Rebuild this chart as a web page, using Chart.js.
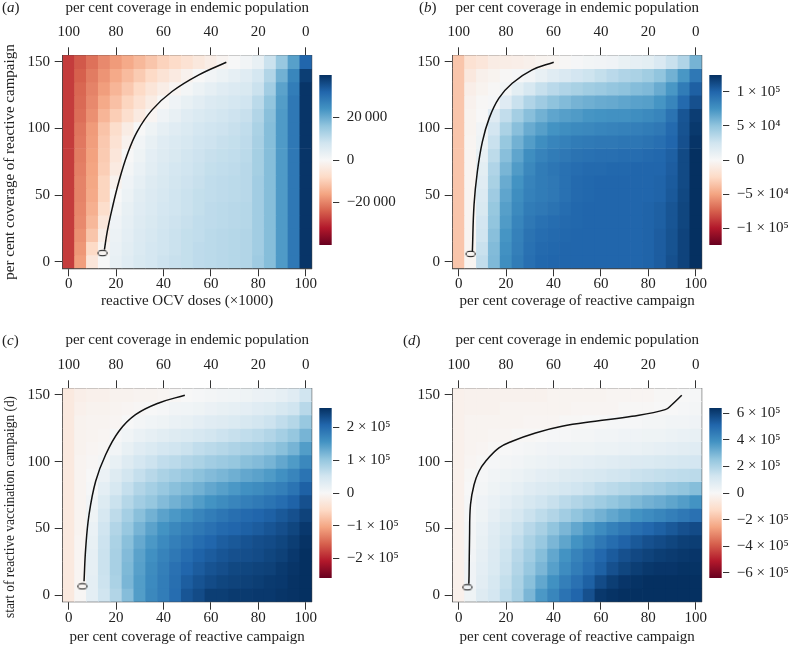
<!DOCTYPE html>
<html>
<head>
<meta charset="utf-8">
<title>Reactive vaccination heat maps</title>
<script src="https://cdn.jsdelivr.net/npm/chart.js@4.4.1/dist/chart.umd.min.js"></script>
<style>
  html, body { margin: 0; padding: 0; background: #fff; }
  #page { position: relative; width: 788px; height: 646px; overflow: hidden;
          font-family: 'Liberation Serif', 'Times New Roman', serif; color: #222; }
  #page canvas { position: absolute; }
  .tag, .ylab { position: absolute; font-size: 15px; line-height: 1; white-space: nowrap; }
  .ylab { transform: translate(-50%, -50%) rotate(-90deg); }
</style>
</head>
<body>
<div id="page">
  <canvas id="heatA" width="318" height="318" style="left:0px;top:0px"></canvas>
  <canvas id="heatB" width="318" height="318" style="left:390px;top:0px"></canvas>
  <canvas id="heatC" width="318" height="313" style="left:0px;top:333px"></canvas>
  <canvas id="heatD" width="318" height="313" style="left:390px;top:333px"></canvas>
  <canvas id="barA" width="86" height="200" style="left:312px;top:60px"></canvas>
  <canvas id="barB" width="86" height="200" style="left:702px;top:60px"></canvas>
  <canvas id="barC" width="86" height="200" style="left:312px;top:393px"></canvas>
  <canvas id="barD" width="86" height="200" style="left:702px;top:393px"></canvas>

  <div class="tag" style="left:2px;top:0px">(<i>a</i>)</div>
  <div class="tag" style="left:419px;top:0px">(<i>b</i>)</div>
  <div class="tag" style="left:2px;top:333px">(<i>c</i>)</div>
  <div class="tag" style="left:403px;top:333px">(<i>d</i>)</div>

  <div class="ylab" style="left:8.5px;top:161.8px">per cent coverage of reactive campaign</div>
  <div class="ylab" style="left:8.5px;top:507px;transform:translate(-50%,-50%) rotate(-90deg) scaleX(0.89)">start of reactive vaccination campaign (d)</div>
</div>
<script>
// grid of the heat maps
const colX = [0, 5, 10, 15, 20, 25, 30, 35, 40, 45, 50, 55, 60, 65, 70, 75, 80, 85, 90, 95, 100];
const rowY = [150, 140, 130, 120, 110, 100, 90, 80, 70, 60, 50, 40, 30, 20, 10, 0];
const xTicks = [0, 20, 40, 60, 80, 100];
const yTicks = [0, 50, 100, 150];

// (a) values in thousands, rows top (150) to bottom (0)
const valuesA = [
  [-28,-24.8,-22,-19.2,-17.2,-15.2,-13.2,-11.2,-9.2,-7.6,-6,-4.4,-2.8,-1.2,0,1.2,3.2,8.8,15.2,22,32],
  [-28,-24,-20.8,-18,-15.2,-12.8,-10.4,-8,-5.6,-3.6,-1.6,0,1.2,2.4,3.6,4.8,7.2,12,19.2,26.4,38],
  [-28,-23.2,-20,-16.8,-13.6,-10.8,-8,-5.2,-2.8,-0.8,0.8,2.4,3.6,4.8,5.6,6.4,8.8,14,21.6,28,39.2],
  [-28,-22.8,-19.2,-15.2,-12,-8.8,-6,-3.2,-0.4,1.6,3.2,4.4,5.6,6.4,7.2,8,10.8,16,22.4,28.8,39.2],
  [-28,-22.4,-18.4,-13.6,-10,-6.8,-3.6,-0.8,1.6,3.2,4.8,6,6.8,7.6,8.4,9.2,12,16.8,22.8,28.8,39.2],
  [-28,-21.6,-17.2,-11.6,-7.2,-3.2,0,2,3.6,4.8,6,7.2,8,8.4,9.2,10,12.8,17.2,22.8,28.8,39.2],
  [-28,-21.2,-16.8,-10.8,-6,-1.6,1.2,3.2,4.8,6,6.8,8,8.4,9.2,9.6,10.4,13.2,17.2,22.8,28.8,39.2],
  [-28,-20.8,-16.4,-10.4,-4.8,0,2,4,5.2,6.4,7.6,8.4,9.2,9.6,10,10.8,13.6,17.2,22.8,28.8,39.2],
  [-28,-20.4,-16,-10,-3.6,0.8,2.8,4.4,6,7.2,8,8.8,9.6,10,10.4,11.2,13.6,17.2,22.8,28.8,39.2],
  [-28,-20,-15.6,-8.8,-1.6,1.6,3.6,5.2,6.4,7.6,8.4,9.2,10,10.4,10.8,11.2,14,17.2,22.8,28.8,39.2],
  [-28,-20,-15.2,-8.8,0,2.4,4.4,5.6,6.8,8,8.8,9.6,10,10.4,10.8,11.2,14,17.2,22.8,28.8,39.2],
  [-28,-19.6,-14.4,-7.2,0.8,3.2,4.8,6,7.2,8,8.8,9.6,10.4,10.8,11.2,11.6,14,17.2,22.8,28.8,39.2],
  [-28,-19.2,-13.2,-4.8,1.6,3.6,5.2,6.4,7.6,8.4,9.2,10,10.4,10.8,11.2,11.6,14,17.2,22.8,28.8,39.2],
  [-28,-18.4,-11.2,-2.8,2.4,4,5.6,6.8,8,8.8,9.6,10,10.8,11.2,11.6,12,14,17.2,22.8,28.8,39.2],
  [-28,-17.6,-8,-1.2,2.8,4.4,6,7.2,8,8.8,9.6,10.4,10.8,11.2,11.6,12,14,17.2,22.8,28.8,39.2],
  [-28,-16.8,-4.8,0,3.2,4.8,6.4,7.2,8.4,9.2,9.6,10.4,10.8,11.2,11.6,12,14.4,17.2,22.8,28.8,39.2]
];
const curveA = [[15.1,9],[16.3,22.7],[18.4,40.2],[21.2,60.2],[24.7,80.3],[28.9,97.7],[35.2,114],[43.6,127.8],[54.9,140.3],[66.5,149.8]];
const startA = [14.3, 6.4];
const barTicksA = [-20, 0, 20];
const barLabelsA = ['\u221220\u2009000', '0', '20\u2009000'];

// (b) thousands
const valuesB = [
  [-35,-19,-15,-10,-9,-8,-6,-4,-3,-1,1,3,4,5,9,11,13,19,28,38,59],
  [-35,-13,-6,-4,-1,1,4,10,15,19,23,26,30,34,38,40,44,50,60,73,90],
  [-35,-8,-4,-1,3,13,21,29,34,38,41,44,46,49,51,54,56,63,73,88,103],
  [-35,-5,-1,1,16,28,38,45,51,55,59,61,63,64,66,68,69,74,83,98,110],
  [-35,-4,0,16,31,43,53,60,66,69,71,74,75,76,76,78,80,83,93,108,119],
  [-35,-4,4,23,40,53,63,69,75,78,80,81,83,84,85,86,88,90,98,109,121],
  [-35,-3,6,28,48,60,70,78,83,85,88,89,90,90,91,91,93,95,100,110,123],
  [-35,-3,10,33,53,66,78,84,88,90,93,94,95,95,96,96,98,99,103,113,125],
  [-35,-3,13,38,58,71,81,88,91,94,96,98,98,99,99,100,100,100,104,113,125],
  [-35,-3,15,41,63,75,84,88,90,94,98,99,100,100,100,100,100,101,105,113,125],
  [-35,-3,18,45,66,78,85,88,90,94,98,99,100,100,100,100,100,101,106,114,125],
  [-35,-3,20,48,69,80,88,90,93,96,99,100,100,100,100,100,101,103,108,115,125],
  [-35,-3,23,50,71,83,90,94,96,98,99,100,100,100,100,100,101,103,108,115,125],
  [-35,-3,25,53,74,85,93,96,98,99,100,100,100,100,100,100,101,104,109,116,125],
  [-35,-3,28,55,76,86,94,98,99,100,100,100,100,100,100,100,101,104,109,116,125],
  [-35,-3,31,56,78,88,95,99,100,100,100,100,100,100,100,100,101,104,110,116,125]
];
const curveB = [[5.8,7.7],[6.5,42.8],[7.9,67.7],[10,90],[12.9,107.8],[17,122.8],[22.6,134],[31,144],[40.1,149.8]];
const startB = [5.05, 5.8];
const barTicksB = [-100, -50, 0, 50, 100];
const barLabelsB = ['\u22121 \u00d7 10\u2075', '\u22125 \u00d7 10\u2074', '0', '5 \u00d7 10\u2074', '1 \u00d7 10\u2075'];

// (c) thousands
const valuesC = [
  [-26,-16,-13,-13,-10,-10,-8,-8,-5,-3,0,3,5,8,10,13,16,18,23,31,52],
  [-26,-13,-10,-10,-8,-5,-3,0,3,8,10,13,16,21,23,26,31,36,44,52,73],
  [-26,-10,-8,-8,-5,0,5,10,13,18,21,26,31,34,39,44,49,55,65,75,99],
  [-26,-10,-8,-5,3,10,18,23,29,34,39,44,49,55,60,65,70,78,88,101,122],
  [-26,-10,-5,-3,8,21,31,39,47,52,57,65,70,75,81,86,91,99,109,122,146],
  [-26,-8,-3,5,21,34,47,55,65,70,78,83,91,96,101,109,114,122,135,148,169],
  [-26,-8,0,16,34,49,62,73,83,91,99,107,114,120,127,135,140,148,159,172,192],
  [-26,-8,3,26,44,62,78,88,99,109,117,125,135,143,151,159,164,172,179,192,213],
  [-26,-8,8,36,57,75,91,101,114,125,135,146,156,164,172,179,185,192,200,211,229],
  [-26,-8,13,44,68,88,109,125,140,151,161,172,182,190,198,203,208,213,221,229,242],
  [-26,-8,18,52,78,99,122,140,156,169,179,187,195,203,208,213,218,224,231,239,252],
  [-26,-5,21,55,83,109,133,151,166,179,190,200,208,216,221,226,231,234,239,247,257],
  [-26,-5,23,57,86,114,140,159,174,187,200,211,218,224,229,231,234,239,244,252,260],
  [-26,-5,23,57,86,117,143,164,179,195,208,218,226,231,237,239,242,244,250,255,260],
  [-26,-5,26,55,83,120,146,166,182,198,216,226,234,239,242,244,247,250,252,257,260],
  [-26,-3,26,52,78,112,146,169,182,200,224,234,247,247,250,250,252,252,255,257,260]
];
const curveC = [[6.5,10.3],[7.2,35.2],[8.6,60.2],[11.4,85.3],[15.6,105.2],[21.2,122.8],[28.2,135.2],[38,144],[49,149.8]];
const startC = [5.8, 6.5];
const barTicksC = [-200, -100, 0, 100, 200];
const barLabelsC = ['\u22122 \u00d7 10\u2075', '\u22121 \u00d7 10\u2075', '0', '1 \u00d7 10\u2075', '2 \u00d7 10\u2075'];

// (d) thousands
const valuesD = [
  [-32,-26,-26,-26,-26,-26,-26,-26,-19,-19,-19,-19,-19,-13,-13,-13,-13,-6,-6,0,6],
  [-32,-26,-26,-26,-19,-19,-19,-19,-19,-19,-13,-13,-13,-13,-6,-6,-6,0,0,6,13],
  [-32,-19,-19,-19,-19,-19,-13,-13,-13,-6,-6,0,0,6,6,6,13,13,19,19,26],
  [-32,-19,-19,-13,-13,-6,-6,0,6,6,13,13,19,19,26,26,32,32,38,45,51],
  [-32,-19,-13,-6,0,6,13,19,26,26,32,32,38,38,45,45,51,58,64,70,77],
  [-32,-13,-6,6,13,19,32,38,45,51,58,64,70,77,83,90,96,102,109,115,118],
  [-32,-6,6,19,32,38,51,64,70,83,90,102,109,122,128,141,147,154,160,166,173],
  [-32,0,13,32,45,58,77,90,102,115,128,141,160,173,186,198,211,224,243,256,275],
  [-32,6,26,45,64,83,109,128,147,173,192,211,230,250,269,288,307,320,339,358,384],
  [-32,6,32,58,83,109,141,166,192,224,256,282,307,333,358,384,403,422,442,461,480],
  [-32,13,45,77,109,141,179,211,256,294,333,371,403,435,461,486,506,525,544,563,576],
  [-32,13,51,83,122,160,205,243,294,339,384,422,461,493,518,544,563,576,589,602,608],
  [-32,19,58,90,134,179,224,275,333,384,429,467,506,538,563,582,595,608,614,621,627],
  [-32,26,64,96,141,192,243,294,352,403,448,486,525,563,589,608,621,627,627,634,634],
  [-32,26,70,109,154,205,269,333,390,442,480,525,576,608,627,634,640,640,640,640,640],
  [-32,32,83,115,166,211,294,371,422,474,512,563,621,634,640,640,640,640,640,640,640]
];
const curveD = [[4.3,8.5],[4.4,15.2],[4.6,42.8],[5,67.7],[6.5,82.7],[8.6,92.8],[11.4,100.3],[17,110.3],[22.6,115.3],[32.4,121.5],[43.6,126.5],[57.6,130.3],[73.1,134],[87.1,139],[89.9,142.7],[94.1,149.8]];
const startD = [3.7, 5.8];
const barTicksD = [-600, -400, -200, 0, 200, 400, 600];
const barLabelsD = ['\u22126 \u00d7 10\u2075', '\u22124 \u00d7 10\u2075', '\u22122 \u00d7 10\u2075', '0', '2 \u00d7 10\u2075', '4 \u00d7 10\u2075', '6 \u00d7 10\u2075'];

const topTitle = 'per cent coverage in endemic population';
const coverageTitle = 'per cent coverage of reactive campaign';

// RdBu, from -limit to +limit
const rdbu = [[103,0,31],[178,24,43],[214,96,77],[244,165,130],[253,219,199],[247,247,247],
              [209,229,240],[146,197,222],[67,147,195],[33,102,172],[5,48,97]];

function rdbuColour(v, limit) {
  const t = Math.max(-1, Math.min(1, v / limit));
  const p = (t + 1) * 5;
  const i = Math.min(9, Math.floor(p));
  const f = p - i;
  const a = rdbu[i], b = rdbu[i + 1];
  const mix = k => Math.round(a[k] + (b[k] - a[k]) * f);
  return 'rgb(' + mix(0) + ',' + mix(1) + ',' + mix(2) + ')';
}

function ellipseMark() {
  const c = document.createElement('canvas');
  c.width = 12; c.height = 8;
  const g = c.getContext('2d');
  g.strokeStyle = '#111';
  g.lineWidth = 1;
  g.beginPath();
  g.ellipse(6, 4, 4.6, 2.7, 0, 0, Math.PI * 2);
  g.stroke();
  return c;
}

const serif = "'Liberation Serif', 'Times New Roman', serif";
const tickFont = { family: serif, size: 15, lineHeight: 1 };
const titleFont = { family: serif, size: 15, lineHeight: 1.2 };
const ink = '#222';
const frame = { display: true, color: '#444', width: 1.2 };
const tickMarks = { drawOnChartArea: false, drawTicks: true, tickLength: 8, color: '#333', lineWidth: 1, offset: false };

function heatPanel(id, p) {
  const datasets = p.values.map((row, r) => ({
    type: 'bar',
    data: row.map((v, c) => ({ x: colX[c], y: [rowY[r] - 5, rowY[r] + 5] })),
    backgroundColor: row.map(v => rdbuColour(v, p.limit)),
    borderWidth: 0,
    grouped: false,
    barPercentage: 1,
    categoryPercentage: 1,
    order: 3
  }));
  datasets.push({
    type: 'line',
    data: p.curve.map(pt => ({ x: pt[0], y: pt[1] })),
    borderColor: '#111',
    borderWidth: 1.5,
    pointRadius: 0,
    tension: 0.4,
    fill: false,
    order: 1
  });
  datasets.push({
    type: 'line',
    data: [{ x: p.start[0], y: p.start[1] }],
    showLine: false,
    pointStyle: ellipseMark(),
    pointRadius: 5,
    order: 0
  });

  new Chart(document.getElementById(id), {
    type: 'bar',
    data: { datasets: datasets },
    options: {
      responsive: false,
      animation: false,
      events: [],
      layout: { padding: 0 },
      plugins: { legend: { display: false }, tooltip: { enabled: false } },
      scales: {
        x: {
          type: 'linear', position: 'bottom', min: -2.5, max: 102.5, offset: false,
          afterBuildTicks: s => { s.ticks = xTicks.map(v => ({ value: v })); },
          afterFit: s => { s.height = p.bottomBox; },
          grid: tickMarks, border: frame,
          ticks: { font: tickFont, color: ink, padding: 0.5, maxRotation: 0, autoSkip: false },
          title: { display: true, text: p.xTitle, font: titleFont, color: ink, padding: { top: 0, bottom: p.bottomPad } }
        },
        x2: {
          type: 'linear', position: 'top', min: -2.5, max: 102.5, offset: false,
          afterBuildTicks: s => { s.ticks = xTicks.map(v => ({ value: v })); },
          afterFit: s => { s.height = 55.3; },
          grid: tickMarks, border: frame,
          ticks: { font: tickFont, color: ink, padding: 7.5, maxRotation: 0, autoSkip: false, callback: v => 100 - v },
          title: { display: true, text: topTitle, font: titleFont, color: ink, padding: { top: p.topPad, bottom: 0 } }
        },
        y: {
          type: 'linear', position: 'left', min: -5, max: 155,
          afterBuildTicks: s => { s.ticks = yTicks.map(v => ({ value: v })); },
          afterFit: s => { s.width = 62.7; },
          grid: tickMarks, border: frame,
          ticks: { font: tickFont, color: ink, padding: 4.7, autoSkip: false }
        },
        y2: {
          type: 'linear', position: 'right', min: -5, max: 155,
          afterFit: s => { s.width = 6.3; },
          grid: { display: false }, border: frame,
          ticks: { display: false }
        }
      }
    }
  });
}

function barGradient(chart) {
  const area = chart.chartArea;
  if (!area) return '#f7f7f7';
  const g = chart.ctx.createLinearGradient(0, area.bottom, 0, area.top);
  rdbu.forEach((c, i) => g.addColorStop(i / 10, 'rgb(' + c.join(',') + ')'));
  return g;
}

function colourBar(id, p) {
  new Chart(document.getElementById(id), {
    type: 'bar',
    data: {
      labels: [''],
      datasets: [{
        data: [[-p.limit, p.limit]],
        backgroundColor: ctx => barGradient(ctx.chart),
        borderWidth: 0,
        barPercentage: 0.795,
        categoryPercentage: 1
      }]
    },
    options: {
      responsive: false,
      animation: false,
      events: [],
      layout: { padding: { left: 5.7, right: 0, top: p.barTop, bottom: p.barBottom } },
      plugins: { legend: { display: false }, tooltip: { enabled: false } },
      scales: {
        x: { display: false },
        y: {
          position: 'right', min: -p.limit, max: p.limit,
          afterBuildTicks: s => { s.ticks = p.barTicks.map(v => ({ value: v })); },
          afterFit: s => { s.width = 64.7; },
          grid: { drawOnChartArea: false, drawTicks: true, tickLength: 6, color: '#333', lineWidth: 1 },
          border: { display: false },
          ticks: { font: tickFont, color: ink, padding: 7.4, callback: (v, i) => p.barLabels[i] }
        }
      }
    }
  });
}

const panels = [
  { heat: 'heatA', bar: 'barA', values: valuesA, limit: 40, curve: curveA, start: startA,
    barTicks: barTicksA, barLabels: barLabelsA, xTitle: 'reactive OCV doses (\u00d71000)',
    bottomBox: 49.7, bottomPad: 8, topPad: -1.3, barTop: 12.7, barBottom: 9.3 },
  { heat: 'heatB', bar: 'barB', values: valuesB, limit: 125, curve: curveB, start: startB,
    barTicks: barTicksB, barLabels: barLabelsB, xTitle: coverageTitle,
    bottomBox: 49.7, bottomPad: 8, topPad: -1.3, barTop: 12.7, barBottom: 9.3 },
  { heat: 'heatC', bar: 'barC', values: valuesC, limit: 260, curve: curveC, start: startC,
    barTicks: barTicksC, barLabels: barLabelsC, xTitle: coverageTitle,
    bottomBox: 44.3, bottomPad: 0.3, topPad: -2, barTop: 12.3, barBottom: 9 },
  { heat: 'heatD', bar: 'barD', values: valuesD, limit: 640, curve: curveD, start: startD,
    barTicks: barTicksD, barLabels: barLabelsD, xTitle: coverageTitle,
    bottomBox: 44.3, bottomPad: 0.3, topPad: -2, barTop: 12.3, barBottom: 9 }
];

panels.forEach(p => {
  heatPanel(p.heat, p);
  colourBar(p.bar, p);
});
</script>
</body>
</html>
